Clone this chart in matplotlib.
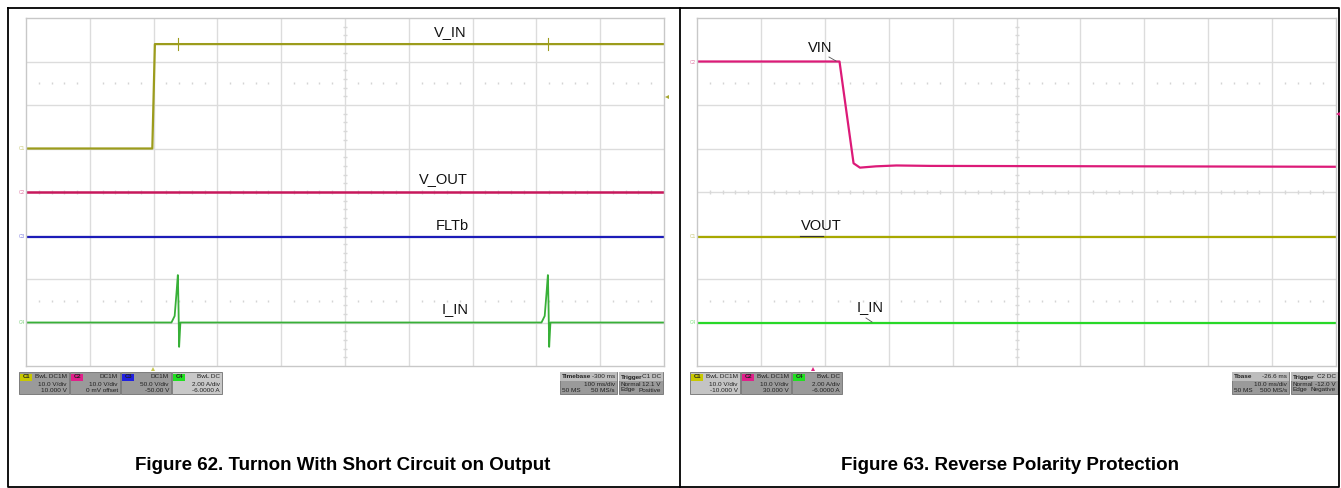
import matplotlib.pyplot as plt
from matplotlib.patches import Rectangle, Polygon
import numpy as np

plt.rcParams['font.family'] = ['Liberation Sans', 'DejaVu Sans']

W, H = 1341, 488

# ---- Figure 62 traces (time in divisions, level in divisions) ----
vin_t = [0.0, 1.98, 2.02, 10.0]
vin_v = [5.0, 5.0, 7.4, 7.4]
vin_glitch_t = [2.38, 8.18]

vout_t = [0.0, 10.0]
vout_v = [4.0, 4.0]

fltb_t = [0.0, 10.0]
fltb_v = [2.97, 2.97]

iin_t = [0.0, 2.28, 2.33, 2.36, 2.38, 2.39, 2.40, 2.42,
         8.08, 8.13, 8.16, 8.18, 8.19, 8.20, 8.22, 10.0]
iin_v = [1.0, 1.0, 1.15, 1.7, 2.09, 1.4, 0.44, 1.0,
         1.0, 1.15, 1.7, 2.09, 1.4, 0.44, 1.0, 1.0]

# ---- Figure 63 traces ----
rvin_t = [0.0, 2.23, 2.45, 2.55, 2.8, 3.12, 3.65, 10.0]
rvin_v = [7.0, 7.0, 4.66, 4.56, 4.59, 4.61, 4.6, 4.58]

rvout_t = [0.0, 10.0]
rvout_v = [2.97, 2.97]

riin_t = [0.0, 10.0]
riin_v = [0.99, 0.99]

captions = ["Figure 62. Turnon With Short Circuit on Output",
            "Figure 63. Reverse Polarity Protection"]

left_labels = [("V_IN", 450, 32), ("V_OUT", 443, 179),
               ("FLTb", 452, 226), ("I_IN", 455, 309)]
right_labels = [("VIN", 820, 48), ("VOUT", 821, 226), ("I_IN", 870, 307)]

left_boxes = [
    ("C1", "#c8c800", "BwL DC1M", "10.0 V/div", "10.000 V", "#9a9a9a"),
    ("C2", "#e0208a", "DC1M", "10.0 V/div", "0 mV offset", "#9a9a9a"),
    ("C3", "#2020e0", "DC1M", "50.0 V/div", "-50.00 V", "#9a9a9a"),
    ("C4", "#20e020", "BwL DC", "2.00 A/div", "-6.0000 A", "#c8c8c8"),
]
right_boxes = [
    ("C1", "#c8c800", "BwL DC1M", "10.0 V/div", "-10.000 V", "#c4c4c4"),
    ("C2", "#e0208a", "BwL DC1M", "10.0 V/div", "30.000 V", "#9a9a9a"),
    ("C4", "#20e020", "BwL DC", "2.00 A/div", "-6.0000 A", "#9a9a9a"),
]
left_time = ("Timebase", "-300 ms", "100 ms/div", "50 MS", "50 MS/s")
left_trig = ("Trigger", "C1 DC", "Normal", "12.1 V", "Edge", "Positive")
right_time = ("Tbase", "-26.6 ms", "10.0 ms/div", "50 MS", "500 MS/s")
right_trig = ("Trigger", "C2 DC", "Normal", "-12.0 V", "Edge", "Negative")

fig = plt.figure(figsize=(W / 100, H / 100), dpi=100)
bg = fig.add_axes([0, 0, 1, 1])
bg.set_xlim(0, W)
bg.set_ylim(H, 0)
bg.axis('off')

# outer frame and divider
bg.plot([8, 1339, 1339, 8, 8], [8, 8, 487, 487, 8], color='black', lw=1.3)
bg.plot([680, 680], [8, 487], color='black', lw=1.3)


def scope_axes(x0, x1, y0, y1):
    ax = fig.add_axes([x0 / W, (H - y1) / H, (x1 - x0) / W, (y1 - y0) / H])
    ax.set_xlim(0, 10)
    ax.set_ylim(0, 8)
    ax.set_xticks([])
    ax.set_yticks([])
    for s in ax.spines.values():
        s.set_color('#c8c8c8')
        s.set_linewidth(1.0)
    for i in range(1, 10):
        ax.axvline(i, color='#dcdcdc', lw=1.0, zorder=0)
    for j in range(1, 8):
        ax.axhline(j, color='#dcdcdc', lw=1.0, zorder=0)
    sub = np.arange(0.2, 10, 0.2)
    sub = sub[np.abs(sub - np.round(sub)) > 0.05]
    for yy in (6.5, 1.5):
        ax.plot(sub, np.full_like(sub, yy), ls='none', marker='|', ms=1.2,
                color='#d4d4d4', zorder=0)
    ax.plot(sub, np.full_like(sub, 4.0), ls='none', marker='|', ms=2.5,
            color='#d8d8d8', zorder=0)
    subv = np.arange(0.2, 8, 0.2)
    subv = subv[np.abs(subv - np.round(subv)) > 0.05]
    ax.plot(np.full_like(subv, 5.0), subv, ls='none', marker='_', ms=2.5,
            color='#d8d8d8', zorder=0)
    return ax


# ---------------- Figure 62 ----------------
axl = scope_axes(26, 664, 18, 366)
axl.plot(vin_t, vin_v, color='#9c9c1c', lw=1.6)
for g in vin_glitch_t:
    axl.plot([g, g], [7.27, 7.53], color='#9c9c1c', lw=0.8)
axl.plot(vout_t, vout_v, color='#c8185c', lw=1.8)
axl.plot(fltb_t, fltb_v, color='#1c1cb8', lw=1.6)
axl.plot(iin_t, iin_v, color='#38b038', lw=1.3)

# ---------------- Figure 63 ----------------
axr = scope_axes(697, 1336, 18, 366)
axr.plot(rvin_t, rvin_v, color='#dc1a78', lw=1.6)
axr.plot(rvout_t, rvout_v, color='#a8a800', lw=1.6)
axr.plot(riin_t, riin_v, color='#28d828', lw=1.6)

# overlay for labels and markers, drawn above the scope grids
top = fig.add_axes([0, 0, 1, 1])
top.set_xlim(0, W)
top.set_ylim(H, 0)
top.axis('off')
top.patch.set_alpha(0)

for txt, x, y in left_labels + right_labels:
    top.text(x, y, txt, fontsize=10.5, ha='center', va='center', color='#111111')
top.plot([829, 836], [57, 61], color='#555555', lw=0.6)
top.plot([800, 823], [236, 236], color='#333333', lw=0.8)
top.plot([866, 872], [318, 322], color='#555555', lw=0.6)

for lab, x, y, c in [("C1", 22, 149, '#c8c878'), ("C2", 22, 192, '#e080a8'),
                     ("C3", 22, 237, '#8080e0'), ("C4", 22, 322, '#80d080'),
                     ("C2", 693, 62, '#e080a8'), ("C1", 693, 237, '#c8c878'),
                     ("C4", 693, 322, '#80e080')]:
    top.text(x, y, lab, fontsize=3.5, ha='center', va='center', color=c)

top.add_patch(Polygon([[665, 97], [669, 95], [669, 99]], closed=True,
                      color='#a8a830', lw=0))
top.add_patch(Polygon([[153, 367], [151, 371], [155, 371]], closed=True,
                      color='#c8c850', lw=0))
top.add_patch(Polygon([[1336, 114], [1340, 112], [1340, 116]], closed=True,
                      color='#e02080', lw=0))
top.add_patch(Polygon([[813, 367], [811, 371], [815, 371]], closed=True,
                      color='#e02080', lw=0))


# ---------------- status boxes ----------------
BY0, BY1 = 372, 394
fs_box = 4.6


def chan_box(x0, x1, info):
    tag, tagc, head, l2, l3, fill = info
    bg.add_patch(Rectangle((x0, BY0), x1 - x0, BY1 - BY0, facecolor=fill,
                           edgecolor='#707070', lw=0.6))
    bg.add_patch(Rectangle((x0 + 1.5, BY0 + 1.5), 12, 7, facecolor=tagc,
                           edgecolor='none'))
    bg.text(x0 + 7.5, BY0 + 5, tag, fontsize=4.2, ha='center', va='center',
            color='#202020', weight='bold')
    bg.text(x1 - 2, BY0 + 5, head, fontsize=fs_box, ha='right', va='center',
            color='#202020')
    bg.text(x1 - 2, BY0 + 12, l2, fontsize=fs_box, ha='right', va='center',
            color='#202020')
    bg.text(x1 - 2, BY0 + 18, l3, fontsize=fs_box, ha='right', va='center',
            color='#202020')


def info_box(x0, x1, head, val, rows):
    bg.add_patch(Rectangle((x0, BY0), x1 - x0, BY1 - BY0, facecolor='#9a9a9a',
                           edgecolor='#707070', lw=0.6))
    bg.add_patch(Rectangle((x0, BY0), x1 - x0, 8.5, facecolor='#bdbdbd',
                           edgecolor='none'))
    bg.text(x0 + 2, BY0 + 5, head, fontsize=fs_box, ha='left', va='center',
            color='#202020', weight='bold')
    bg.text(x1 - 2, BY0 + 5, val, fontsize=fs_box, ha='right', va='center',
            color='#202020')
    for dy, (a, b) in zip((12, 18), rows):
        bg.text(x0 + 2, BY0 + dy, a, fontsize=fs_box, ha='left', va='center',
                color='#202020')
        bg.text(x1 - 2, BY0 + dy, b, fontsize=fs_box, ha='right', va='center',
                color='#202020')


for i, info in enumerate(left_boxes):
    chan_box(19 + i * 51, 69 + i * 51, info)
info_box(560, 617, left_time[0], left_time[1],
         [("", left_time[2]), (left_time[3], left_time[4])])
info_box(619, 663, left_trig[0], left_trig[1],
         [(left_trig[2], left_trig[3]), (left_trig[4], left_trig[5])])

for i, info in enumerate(right_boxes):
    chan_box(690 + i * 51, 740 + i * 51, info)
info_box(1232, 1289, right_time[0], right_time[1],
         [("", right_time[2]), (right_time[3], right_time[4])])
info_box(1291, 1338, right_trig[0], right_trig[1],
         [(right_trig[2], right_trig[3]), (right_trig[4], right_trig[5])])

# ---------------- captions ----------------
bg.text(343, 465, captions[0], fontsize=13.5, weight='bold', ha='center',
        va='center', color='black')
bg.text(1010, 465, captions[1], fontsize=13.5, weight='bold', ha='center',
        va='center', color='black')

fig.savefig('out.png', dpi=100)
